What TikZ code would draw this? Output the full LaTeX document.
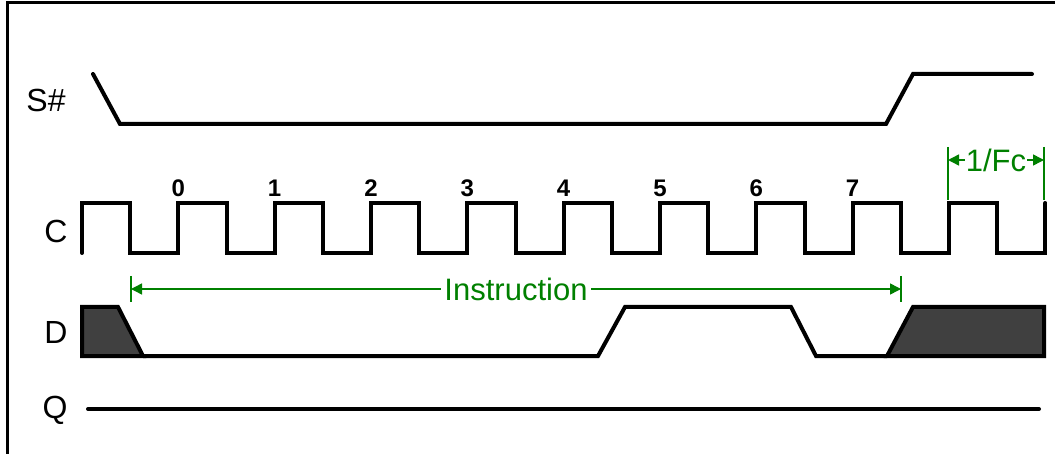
\documentclass[tikz,border=0pt]{standalone}
\usepackage{fontspec}
\setmainfont{Liberation Sans}
\usetikzlibrary{arrows.meta}
\definecolor{dimgreen}{RGB}{0,128,0}
\definecolor{busgray}{RGB}{64,64,64}
\tikzset{
	wave/.style={line width=4pt, line cap=round},
	sig/.style={font=\fontsize{32}{37}\selectfont},
	num/.style={font=\fontsize{24}{28}\selectfont\bfseries},
	dim/.style={dimgreen, line width=1.5pt},
	dimarrow/.style={dim, {Triangle[length=11pt,width=11pt]}-{Triangle[length=11pt,width=11pt]}},
	dimtext/.style={dimgreen, fill=white, font=\fontsize{31}{36}\selectfont}
}
\begin{document}
\begin{tikzpicture}[x=1pt,y=-1pt]
		\useasboundingbox (0,0) rectangle (1055,454);
		\draw[line width=3pt] (7.5,454) -- (7.5,3) -- (1055,3);
		
		\node[sig] (sLabel) at (46,100) {S\#};
		\node[sig] (cLabel) at (56,231) {C};
		\node[sig] (dLabel) at (56,332) {D};
		\node[sig] (qLabel) at (55,410) {Q};
		
		% S#
		\draw[wave] (93,74) -- (120,124) -- (886,124) -- (913,74) -- (1032,74);
		
		% C
		\draw[wave] (82,253) foreach \k in {0,...,9} { -- ++(0,-50) -- ++(48.17,0) -- ++(0,50) -- ++(48.17,0) } -- ++(0,-50);
		\foreach \k in {0,...,7}
		{
		\node[num] (n\k) at ({178.3+96.33*\k},188) {\k};
		}
		
		% D
		\filldraw[wave, fill=busgray] (82,307) -- (118,307) -- (143,356) -- (82,356) -- cycle;
		\draw[wave] (143,356) -- (598,356) -- (625,307) -- (791,307) -- (816,356) -- (887,356);
		\filldraw[wave, fill=busgray] (887,356) -- (913,307) -- (1044,307) -- (1044,356) -- cycle;
		
		% Q
		\draw[wave] (88,409) -- (1039,409);
		
		% Instruction
		\coordinate (insL) at (131,289);
		\coordinate (insR) at (901,289);
		\draw[dim] (insL) ++(0,-13) -- ++(0,26) (insR) ++(0,-13) -- ++(0,26);
		\draw[dimarrow] (insL) -- (insR) node[dimtext, midway, inner sep=3pt] (insText) {Instruction};
		
		% 1/Fc
		\coordinate (fcL) at (948,160);
		\coordinate (fcR) at (1044,160);
		\draw[dim] (fcL) ++(0,-13) -- ++(0,53) (fcR) ++(0,-13) -- ++(0,53);
		\draw[dimarrow] (fcL) -- (fcR) node[dimtext, midway, inner sep=1pt] (fcText) {1/Fc};
\end{tikzpicture}
\end{document}
